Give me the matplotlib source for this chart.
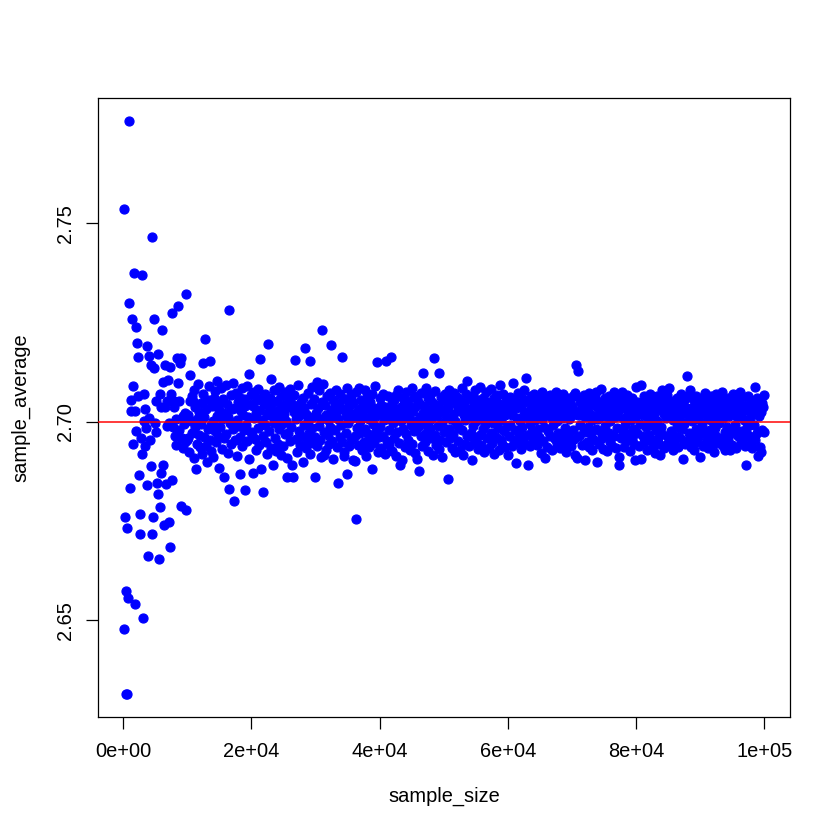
import matplotlib

matplotlib.use("Agg")
import matplotlib.pyplot as plt
import numpy as np

plt.rcParams["font.family"] = ["Liberation Sans", "DejaVu Sans"]

# sample sizes 100, 200, ..., 100000 (one point per size)
sample_size = np.arange(100, 100001, 100)

sample_average = [
    2.7537, 2.6479, 2.6760, 2.6314, 2.6573, 2.6314, 2.6732, 2.6555, 2.7299, 2.7758,
    2.6832, 2.7028, 2.7054, 2.7259, 2.6945, 2.7090, 2.7374, 2.6541, 2.7026, 2.6976,
    2.7240, 2.7198, 2.7065, 2.7164, 2.6866, 2.6768, 2.6718, 2.6960, 2.7370, 2.6919,
    2.6506, 2.7070, 2.7002, 2.6940, 2.7031, 2.6985, 2.7190, 2.6841, 2.6662, 2.7010,
    2.7167, 2.6954, 2.7142, 2.6889, 2.6718, 2.7465, 2.6759, 2.7259, 2.7136, 2.6996,
    2.7052, 2.6975, 2.6846, 2.6818, 2.7171, 2.6654, 2.6785, 2.7071, 2.7037, 2.6870,
    2.7230, 2.7101, 2.6892, 2.6741, 2.7144, 2.7037, 2.6844, 2.7052, 2.6990, 2.7106,
    2.6748, 2.6998, 2.6685, 2.7139, 2.7070, 2.7273, 2.6853, 2.6987, 2.7037, 2.7052,
    2.6965, 2.7008, 2.6942, 2.7161, 2.7292, 2.7097, 2.6980, 2.7052, 2.7149, 2.7161,
    2.6789, 2.6960, 2.7015, 2.6935, 2.6995, 2.6948, 2.7022, 2.7322, 2.6778, 2.6955,
    2.6958, 2.7018, 2.6925, 2.7052, 2.7119, 2.7003, 2.6972, 2.7066, 2.7052, 2.6909,
    2.7081, 2.6988, 2.7037, 2.6880, 2.7008, 2.6944, 2.7094, 2.6967, 2.7025, 2.6936,
    2.7047, 2.6995, 2.6918, 2.7071, 2.7148, 2.6961, 2.7012, 2.7209, 2.6940, 2.7033,
    2.6899, 2.7054, 2.6983, 2.7089, 2.6954, 2.7152, 2.6992, 2.6927, 2.7040, 2.7002,
    2.6912, 2.7061, 2.6976, 2.7077, 2.6948, 2.7015, 2.7103, 2.6964, 2.7029, 2.6883,
    2.7048, 2.6986, 2.7085, 2.6931, 2.7006, 2.7058, 2.6959, 2.6860, 2.7022, 2.7093,
    2.6970, 2.7044, 2.6922, 2.7011, 2.6831, 2.7282, 2.6997, 2.7067, 2.6945, 2.7031,
    2.6981, 2.7098, 2.6801, 2.7036, 2.6953, 2.7072, 2.7005, 2.6914, 2.7051, 2.6989,
    2.7063, 2.6962, 2.6868, 2.7027, 2.7084, 2.6938, 2.7016, 2.6979, 2.7057, 2.6827,
    2.7039, 2.6993, 2.7090, 2.6951, 2.7013, 2.6906, 2.7120, 2.7045, 2.6974, 2.7068,
    2.6967, 2.7041, 2.6872, 2.7009, 2.7076, 2.6956, 2.7022, 2.6930, 2.7055, 2.6985,
    2.7083, 2.6942, 2.7030, 2.7157, 2.6882, 2.7004, 2.7062, 2.6963, 2.6822, 2.7047,
    2.6991, 2.7071, 2.6949, 2.7018, 2.6920, 2.7196, 2.7035, 2.6977, 2.7060, 2.7109,
    2.6934, 2.7014, 2.7048, 2.6890, 2.6998, 2.7079, 2.6960, 2.7026, 2.6927, 2.7053,
    2.7010, 2.6945, 2.7087, 2.6981, 2.7032, 2.6916, 2.7064, 2.6994, 2.7043, 2.6939,
    2.7020, 2.7075, 2.6969, 2.7001, 2.6908, 2.6860, 2.7058, 2.6973, 2.7037, 2.6952,
    2.7082, 2.6986, 2.6892, 2.7046, 2.6862, 2.7025, 2.7068, 2.7155, 2.6957, 2.7007,
    2.6924, 2.7039, 2.7093, 2.6978, 2.7015, 2.6941, 2.7050, 2.6965, 2.7028, 2.6898,
    2.7061, 2.6992, 2.7034, 2.7185, 2.6933, 2.7019, 2.6954, 2.7072, 2.7003, 2.6971,
    2.7152, 2.6919, 2.7044, 2.6984, 2.7088, 2.6947, 2.7012, 2.7057, 2.6962, 2.6860,
    2.7023, 2.7099, 2.6938, 2.7036, 2.6990, 2.7079, 2.6955, 2.7008, 2.6912, 2.7231,
    2.7051, 2.7096, 2.6917, 2.6975, 2.7042, 2.6930, 2.7017, 2.7064, 2.6967, 2.7004,
    2.6943, 2.7073, 2.6988, 2.7194, 2.7029, 2.6951, 2.7055, 2.6905, 2.7013, 2.7038,
    2.6980, 2.7081, 2.6936, 2.7026, 2.6847, 2.7006, 2.7047, 2.6961, 2.7069, 2.6993,
    2.7164, 2.6948, 2.7031, 2.6914, 2.6924, 2.7058, 2.7015, 2.6972, 2.6868, 2.7084,
    2.6997, 2.7040, 2.6939, 2.7022, 2.7067, 2.6956, 2.7009, 2.6903, 2.7050, 2.7018,
    2.6964, 2.6902, 2.6756, 2.7074, 2.6985, 2.7033, 2.6942, 2.7085, 2.7001, 2.6973,
    2.7056, 2.6928, 2.7020, 2.7045, 2.6950, 2.7011, 2.7079, 2.6982, 2.6915, 2.7037,
    2.7062, 2.6969, 2.7008, 2.6937, 2.7049, 2.7024, 2.6958, 2.6882, 2.7070, 2.6994,
    2.7035, 2.6946, 2.7091, 2.6978, 2.7014, 2.7151, 2.6923, 2.7027, 2.6961, 2.7060,
    2.6988, 2.7043, 2.6933, 2.7019, 2.7071, 2.6965, 2.7005, 2.6919, 2.7038, 2.7154,
    2.6952, 2.7025, 2.7064, 2.6980, 2.6941, 2.7032, 2.7008, 2.7164, 2.6927, 2.7047,
    2.6996, 2.7056, 2.6960, 2.7016, 2.6913, 2.7068, 2.7029, 2.6974, 2.7080, 2.6947,
    2.7011, 2.6890, 2.7037, 2.7002, 2.6904, 2.7061, 2.6983, 2.7044, 2.6936, 2.7022,
    2.7075, 2.6969, 2.7009, 2.6953, 2.7053, 2.7018, 2.6930, 2.7034, 2.6991, 2.7086,
    2.6943, 2.7027, 2.6977, 2.7066, 2.7003, 2.6921, 2.7041, 2.6906, 2.7058, 2.6986,
    2.6877, 2.7048, 2.7013, 2.6963, 2.7072, 2.6939, 2.7021, 2.7123, 2.6995, 2.7039,
    2.6950, 2.7084, 2.6972, 2.7010, 2.7059, 2.6926, 2.7030, 2.6984, 2.7067, 2.6958,
    2.7006, 2.7050, 2.6917, 2.7024, 2.7160, 2.6966, 2.7077, 2.6942, 2.7015, 2.7042,
    2.6989, 2.6931, 2.7123, 2.7033, 2.6954, 2.7062, 2.6997, 2.6912, 2.7028, 2.7055,
    2.6975, 2.7070, 2.6948, 2.7012, 2.7046, 2.6856, 2.7035, 2.6982, 2.7081, 2.6960,
    2.7007, 2.7058, 2.6934, 2.7020, 2.6969, 2.7073, 2.7001, 2.6923, 2.7044, 2.6991,
    2.7063, 2.6952, 2.7026, 2.6985, 2.7052, 2.6928, 2.7038, 2.7085, 2.6979, 2.6917,
    2.7017, 2.7047, 2.6944, 2.7004, 2.7069, 2.7102, 2.6963, 2.7023, 2.6938, 2.7031,
    2.7057, 2.6971, 2.7011, 2.6904, 2.7066, 2.6990, 2.7040, 2.6949, 2.7079, 2.7002,
    2.6956, 2.7028, 2.6932, 2.7054, 2.7014, 2.6967, 2.7088, 2.6942, 2.7006, 2.7045,
    2.6981, 2.7061, 2.6925, 2.7030, 2.6992, 2.7074, 2.6958, 2.7019, 2.7050, 2.6935,
    2.7009, 2.7036, 2.6973, 2.7082, 2.6947, 2.7023, 2.6996, 2.7059, 2.6920, 2.7041,
    2.7013, 2.6962, 2.7067, 2.6984, 2.7048, 2.6929, 2.7027, 2.7092, 2.6954, 2.7005,
    2.6943, 2.7039, 2.7070, 2.6976, 2.7016, 2.6937, 2.7052, 2.6989, 2.7033, 2.6916,
    2.7024, 2.6964, 2.7063, 2.6993, 2.7041, 2.6940, 2.7018, 2.7098, 2.6955, 2.7055,
    2.6980, 2.6897, 2.7034, 2.7009, 2.6948, 2.7072, 2.6971, 2.7046, 2.7001, 2.6932,
    2.7037, 2.6986, 2.7058, 2.6959, 2.7021, 2.7080, 2.6945, 2.7012, 2.7111, 2.6967,
    2.7049, 2.6890, 2.7027, 2.6994, 2.6938, 2.7065, 2.6976, 2.7038, 2.6953, 2.7015,
    2.7071, 2.6969, 2.7004, 2.7053, 2.6942, 2.7030, 2.6983, 2.7062, 2.6961, 2.7022,
    2.6921, 2.7044, 2.7008, 2.7075, 2.6951, 2.7033, 2.6988, 2.6908, 2.7057, 2.7017,
    2.6937, 2.7040, 2.6977, 2.7066, 2.7068, 2.6965, 2.7013, 2.7050, 2.6929, 2.7029,
    2.6991, 2.7059, 2.6956, 2.7021, 2.7076, 2.6947, 2.7003, 2.7043, 2.6973, 2.7062,
    2.6934, 2.7019, 2.7051, 2.6962, 2.7010, 2.7070, 2.6944, 2.7032, 2.6985, 2.7048,
    2.6923, 2.7026, 2.7061, 2.6970, 2.7006, 2.6952, 2.7055, 2.7014, 2.6938, 2.7039,
    2.6979, 2.7064, 2.6956, 2.7072, 2.6917, 2.7028, 2.7144, 2.6908, 2.7017, 2.7127,
    2.6964, 2.7049, 2.6992, 2.7058, 2.6941, 2.7023, 2.7041, 2.6974, 2.7067, 2.6903,
    2.7012, 2.7046, 2.6950, 2.7031, 2.6987, 2.7073, 2.6936, 2.7020, 2.7055, 2.6968,
    2.7005, 2.6930, 2.7043, 2.7015, 2.6955, 2.7062, 2.6981, 2.7075, 2.6899, 2.7036,
    2.7008, 2.6943, 2.7050, 2.6976, 2.7027, 2.7082, 2.6959, 2.7014, 2.6932, 2.7047,
    2.6990, 2.7060, 2.6966, 2.7022, 2.6927, 2.7038, 2.7066, 2.6971, 2.7003, 2.6949,
    2.7045, 2.6940, 2.7019, 2.7054, 2.7075, 2.6963, 2.7011, 2.6934, 2.7040, 2.7026,
    2.6984, 2.7063, 2.6890, 2.6911, 2.7033, 2.6958, 2.7052, 2.7075, 2.6977, 2.7009,
    2.6936, 2.7047, 2.6992, 2.7035, 2.6951, 2.7068, 2.7018, 2.6969, 2.7056, 2.6926,
    2.7024, 2.7004, 2.6957, 2.7061, 2.6982, 2.7039, 2.6944, 2.7013, 2.6904, 2.7088,
    2.6973, 2.7050, 2.7020, 2.6939, 2.7034, 2.6995, 2.7092, 2.6907, 2.7042, 2.6964,
    2.7016, 2.7065, 2.6948, 2.7028, 2.6986, 2.7057, 2.6930, 2.7007, 2.7044, 2.6967,
    2.7071, 2.6955, 2.7023, 2.6991, 2.7053, 2.6938, 2.7036, 2.7012, 2.6922, 2.7049,
    2.6979, 2.7064, 2.7002, 2.6960, 2.7030, 2.6945, 2.6916, 2.7045, 2.6988, 2.7081,
    2.6970, 2.7058, 2.6933, 2.7019, 2.7041, 2.6942, 2.7010, 2.7067, 2.6961, 2.7025,
    2.7085, 2.6951, 2.7014, 2.7052, 2.6977, 2.7036, 2.6929, 2.7005, 2.6945, 2.7047,
    2.7018, 2.6965, 2.7060, 2.6987, 2.7032, 2.6936, 2.7046, 2.7007, 2.6958, 2.7070,
    2.6981, 2.7027, 2.6905, 2.7054, 2.6994, 2.7038, 2.6943, 2.7021, 2.7063, 2.7116,
    2.6954, 2.7011, 2.6972, 2.7081, 2.6937, 2.7035, 2.7002, 2.7057, 2.6962, 2.7016,
    2.6928, 2.7044, 2.6983, 2.7066, 2.6949, 2.7025, 2.7008, 2.6967, 2.7049, 2.6911,
    2.7031, 2.6990, 2.7059, 2.6940, 2.7022, 2.7043, 2.6973, 2.7072, 2.6952, 2.7006,
    2.7037, 2.6934, 2.7017, 2.7054, 2.6980, 2.6959, 2.7064, 2.7001, 2.6944, 2.7028,
    2.6925, 2.7048, 2.6985, 2.7069, 2.6965, 2.7013, 2.7040, 2.6947, 2.7026, 2.6996,
    2.7058, 2.6956, 2.7020, 2.7075, 2.6938, 2.7009, 2.7033, 2.6975, 2.6929, 2.7051,
    2.6988, 2.7039, 2.7061, 2.6953, 2.7015, 2.6970, 2.6929, 2.7047, 2.7024, 2.6942,
    2.7070, 2.6981, 2.7036, 2.6992, 2.7053, 2.6935, 2.7012, 2.7044, 2.6963, 2.7027,
    2.7057, 2.7075, 2.6950, 2.7018, 2.6977, 2.7062, 2.6959, 2.7005, 2.7040, 2.6939,
    2.6892, 2.7029, 2.6986, 2.7066, 2.6967, 2.7046, 2.7010, 2.6945, 2.7035, 2.6934,
    2.7021, 2.6962, 2.7052, 2.6993, 2.7088, 2.6954, 2.7030, 2.7059, 2.6972, 2.6913,
    2.7015, 2.7043, 2.6937, 2.6925, 2.7024, 2.7048, 2.6980, 2.7037, 2.7068, 2.6974,
]

reference_value = 2.70

x_ticks = [0, 20000, 40000, 60000, 80000, 100000]
x_tick_labels = ["0e+00", "2e+04", "4e+04", "6e+04", "8e+04", "1e+05"]
y_ticks = [2.65, 2.70, 2.75]
y_tick_labels = ["2.65", "2.70", "2.75"]

assert len(sample_average) == len(sample_size)

fig = plt.figure(figsize=(7, 7), dpi=120)
ax = fig.add_axes([98 / 840, 1 - 717 / 840, 692 / 840, 619 / 840])

ax.plot(
    sample_size,
    sample_average,
    linestyle="none",
    marker="o",
    markersize=5.4,
    markerfacecolor="blue",
    markeredgecolor="blue",
    markeredgewidth=0.75,
    zorder=2,
)
ax.axhline(reference_value, color="red", linewidth=0.9, zorder=3)
ax.margins(0.04)

ax.set_xticks(x_ticks)
ax.set_xticklabels(x_tick_labels)
ax.set_yticks(y_ticks)
ax.set_yticklabels(y_tick_labels, rotation=90, va="center")

ax.tick_params(axis="both", direction="out", length=7.2, width=0.75, labelsize=12, color="black")
ax.tick_params(axis="x", pad=8.0)
ax.tick_params(axis="y", pad=6.6)

for spine in ax.spines.values():
    spine.set_linewidth(0.75)
    spine.set_color("black")

ax.set_xlabel("sample_size", fontsize=12, labelpad=15.5)
ax.set_ylabel("sample_average", fontsize=12, labelpad=15.5)

fig.savefig("out.png", dpi=120, facecolor="white")
